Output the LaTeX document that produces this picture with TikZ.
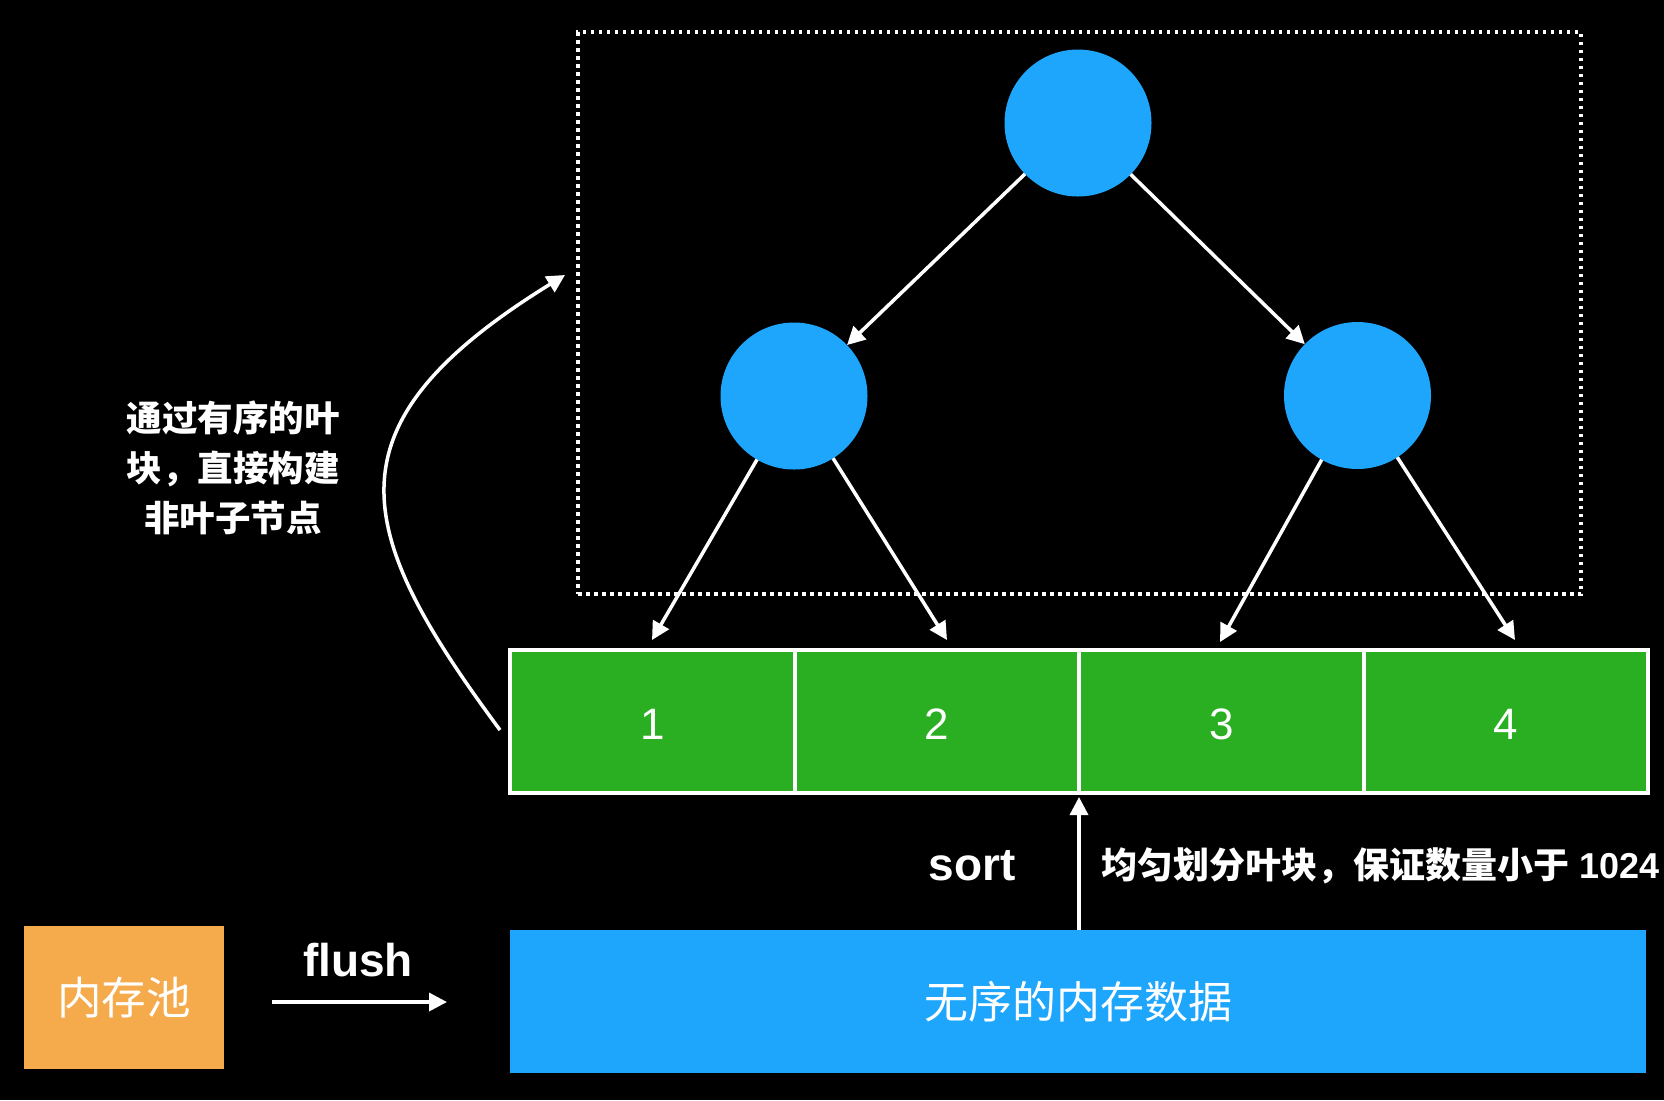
\documentclass[tikz,border=0pt]{standalone}
\usepackage{fontspec}
\setmainfont{Liberation Sans}
\newfontfamily\cjk{Noto Sans CJK SC}
\usetikzlibrary{arrows.meta}
\definecolor{bluec}{HTML}{1EA5FC}
\definecolor{greenc}{HTML}{2AAE22}
\definecolor{orangec}{HTML}{F5AA4B}
\begin{document}
\begin{tikzpicture}[x=0.5pt,y=-0.5pt,
  conn/.style={draw=white, line width=1.75pt, -{Triangle[length=9pt,width=9pt]}},
  circ/.style={circle, fill=bluec, minimum size=73.5pt, inner sep=0pt, outer sep=0pt},
  cellbox/.style={rectangle, draw=white, line width=2pt, fill=greenc, minimum width=142.25pt, minimum height=71.5pt, inner sep=0pt, outer sep=0pt},
  numlbl/.style={text=white, inner sep=0pt, font=\fontsize{22}{26}\selectfont},
  lbl/.style={text=white, inner sep=0pt},
  framebox/.style={draw=white, line width=1.75pt, dash pattern=on 1.75pt off 2.25pt, minimum width=501.5pt, minimum height=281pt, inner sep=0pt, outer sep=0pt}
]
\fill[black] (0,0) rectangle (1664,1100);
\useasboundingbox (0,0) rectangle (1664,1100);

% dotted frame
\node[framebox] (frame) at (1079.5,313) {};

% tree nodes
\node[circ] (root) at (1078,123) {};
\node[circ] (lc) at (794,396) {};
\node[circ] (rc) at (1357.5,395.5) {};

% leaf cells
\node[cellbox] (c1) at (652.25,721.5) {};
\node[cellbox] (c2) at (936.75,721.5) {};
\node[cellbox] (c3) at (1221.25,721.5) {};
\node[cellbox] (c4) at (1505.75,721.5) {};
\node[numlbl] (n1) at (652.25,724) {1};
\node[numlbl] (n2) at (936.75,724) {2};
\node[numlbl] (n3) at (1221.25,724) {3};
\node[numlbl] (n4) at (1505.75,724) {4};

% arrow targets above cells
\coordinate (t1) at (652,640);
\coordinate (t2) at (947,640);
\coordinate (t3) at (1220,642);
\coordinate (t4) at (1515,640);

\draw[conn] (root) -- (lc);
\draw[conn] (root) -- (rc);
\draw[conn] (lc) -- (t1);
\draw[conn] (lc) -- (t2);
\draw[conn] (rc) -- (t3);
\draw[conn] (rc) -- (t4);

% unsorted data and memory pool
\node[rectangle, fill=bluec, minimum width=568pt, minimum height=71.5pt, inner sep=0pt, outer sep=0pt, text=white, font=\cjk\fontsize{22}{26}\selectfont] (data) at (1078,1001.5) {无序的内存数据};
\node[rectangle, fill=orangec, minimum width=100pt, minimum height=71.5pt, inner sep=0pt, outer sep=0pt, text=white, font=\cjk\fontsize{22.3}{26}\selectfont] (pool) at (124,997.5) {内存池};

% flush arrow
\coordinate (f1) at (272,1002);
\coordinate (f2) at (447,1002);
\draw[conn] (f1) -- (f2);
\node[lbl, font=\bfseries\fontsize{23}{27}\selectfont] (flush) at (358,960) {flush};

% sort arrow
\coordinate (s1) at (1079,930);
\coordinate (s2) at (1079,797);
\draw[conn] (s1) -- (s2);
\node[lbl, font=\bfseries\fontsize{23}{27}\selectfont] (sort) at (972,866) {sort};
\node[lbl, anchor=west, font=\fontsize{18}{22}\selectfont] (split) at (1101,866) {{\cjk\bfseries 均匀划分叶块，保证数量小于} \bfseries 1024};

% curved arrow
\coordinate (ca) at (500,730);
\coordinate (cb) at (565,275);
\draw[conn] (ca) .. controls (352,530) and (322,425) .. (cb);
\node[lbl, align=center, font=\cjk\bfseries\fontsize{17.75}{25}\selectfont] (note) at (233,468) {通过有序的叶\\块，直接构建\\非叶子节点};
\end{tikzpicture}
\end{document}
